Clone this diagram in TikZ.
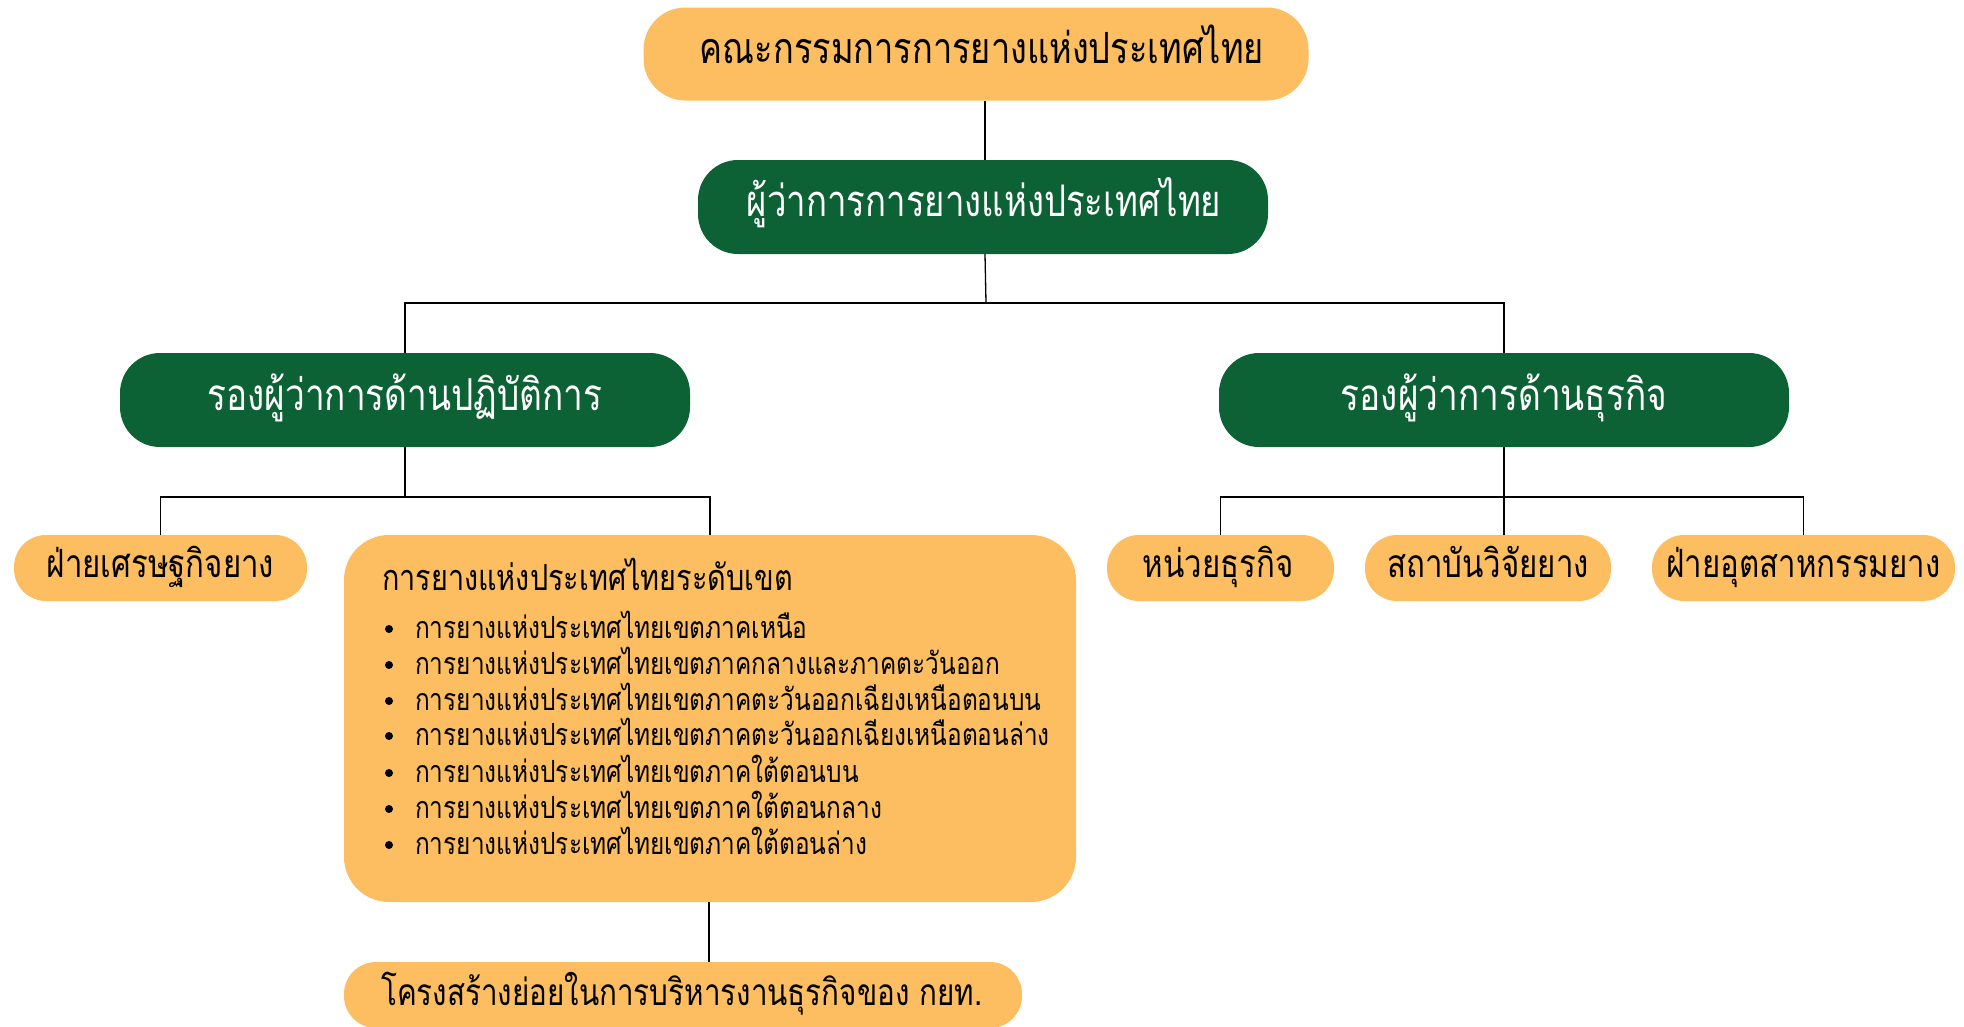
\documentclass[tikz,border=0pt]{standalone}
\usepackage{fontspec}
\setmainfont[Script=Thai,FakeStretch=0.8]{Loma}
\usetikzlibrary{positioning}
\definecolor{orangebox}{RGB}{252,190,96}
\definecolor{greenbox}{RGB}{12,98,52}
\tikzset{
  obox/.style={draw=none,fill=orangebox,rounded corners=#1,inner sep=0pt,text=black},
  gbox/.style={draw=none,fill=greenbox,rounded corners=40pt,inner sep=0pt,text=white},
  conn/.style={draw=black,line width=1.3pt},
  lbl/.style={inner sep=0pt,anchor=base},
  item/.style={inner sep=0pt,anchor=base west,font=\fontsize{30.5}{34}\selectfont},
  bul/.style={circle,fill=black,inner sep=0pt,minimum size=8pt}
}
\begin{document}
\begin{tikzpicture}[x=1pt,y=-1pt]
\useasboundingbox (0,0) rectangle (1964,1026);
% boxes
\node[obox=42pt,minimum width=665pt,minimum height=93pt] (board) at (976,54) {};
\node[gbox,minimum width=570pt,minimum height=94pt] (gov) at (983,207) {};
\node[gbox,minimum width=570pt,minimum height=94pt] (dop) at (405,400) {};
\node[gbox,minimum width=570pt,minimum height=94pt] (dbiz) at (1504,400) {};
\node[obox=32pt,minimum width=293pt,minimum height=66pt] (econ) at (160.5,568) {};
\node[obox=45pt,minimum width=732pt,minimum height=367pt] (region) at (710,718.5) {};
\node[obox=32pt,minimum width=227pt,minimum height=66pt] (unit) at (1220.5,568) {};
\node[obox=32pt,minimum width=246pt,minimum height=66pt] (inst) at (1488,568) {};
\node[obox=32pt,minimum width=303pt,minimum height=66pt] (ind) at (1803.5,568) {};
\node[obox=32pt,minimum width=678pt,minimum height=66pt] (sub) at (683,995) {};
% labels
\node[lbl,font=\fontsize{43}{48}\selectfont] (tboard) at (982,63) {คณะกรรมการการยางแห่งประเทศไทย};
\node[lbl,text=white,font=\fontsize{43.5}{48}\selectfont] (tgov) at (984,216) {ผู้ว่าการการยางแห่งประเทศไทย};
\node[lbl,text=white,font=\fontsize{44}{48}\selectfont] (tdop) at (405,410) {รองผู้ว่าการด้านปฏิบัติการ};
\node[lbl,text=white,font=\fontsize{44}{48}\selectfont] (tdbiz) at (1504,410) {รองผู้ว่าการด้านธุรกิจ};
\node[lbl,font=\fontsize{39}{44}\selectfont] (tecon) at (160.5,577) {ฝ่ายเศรษฐกิจยาง};
\node[lbl,font=\fontsize{39}{44}\selectfont] (tunit) at (1218,577) {หน่วยธุรกิจ};
\node[lbl,font=\fontsize{39}{44}\selectfont] (tinst) at (1488,577) {สถาบันวิจัยยาง};
\node[lbl,font=\fontsize{39}{44}\selectfont] (tind) at (1803.5,577) {ฝ่ายอุตสาหกรรมยาง};
\node[lbl,anchor=base west,font=\fontsize{37}{42}\selectfont] (tsub) at (381,1005) {โครงสร้างย่อยในการบริหารงานธุรกิจของ กยท.};
\node[lbl,anchor=base west,font=\fontsize{36}{40}\selectfont] (tregion) at (382,590) {การยางแห่งประเทศไทยระดับเขต};
% list
\node[item] (i1) at (415,638) {การยางแห่งประเทศไทยเขตภาคเหนือ};
\node[item] (i2) at (415,674) {การยางแห่งประเทศไทยเขตภาคกลางและภาคตะวันออก};
\node[item] (i3) at (415,710) {การยางแห่งประเทศไทยเขตภาคตะวันออกเฉียงเหนือตอนบน};
\node[item] (i4) at (415,745) {การยางแห่งประเทศไทยเขตภาคตะวันออกเฉียงเหนือตอนล่าง};
\node[item] (i5) at (415,782) {การยางแห่งประเทศไทยเขตภาคใต้ตอนบน};
\node[item] (i6) at (415,818) {การยางแห่งประเทศไทยเขตภาคใต้ตอนกลาง};
\node[item] (i7) at (415,854) {การยางแห่งประเทศไทยเขตภาคใต้ตอนล่าง};
\foreach \k/\yy in {1/629,2/665,3/701,4/736,5/773,6/809,7/845}
  \node[bul] (b\k) at (389,\yy) {};
% connectors
\coordinate (j0) at (985,100);
\coordinate (j1) at (986,303);
\coordinate (j2) at (405,497);
\coordinate (j3) at (1504,497);
\draw[conn] (j0 |- board.south) -- (j0 |- gov.north);
\draw[conn] (j0 |- gov.south) -- (j1);
\draw[conn] (dop.north) |- (j1) -| (dbiz.north);
\draw[conn] (dop.south) -- (j2);
\draw[conn] (econ.north) |- (j2) -| (region.north);
\draw[conn] (dbiz.south) -- (j3);
\draw[conn] (unit.north) |- (j3) -| (ind.north);
\draw[conn] (j3) -- (j3 |- inst.north);
\draw[conn] (709,0 |- region.south) -- (709,0 |- sub.north);
\end{tikzpicture}
\end{document}
